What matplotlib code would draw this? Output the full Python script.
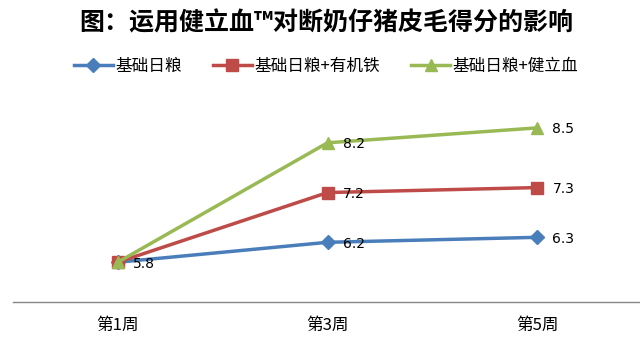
import matplotlib
matplotlib.use("Agg")
import matplotlib.pyplot as plt

plt.rcParams['font.family'] = ['Noto Sans CJK SC', 'DejaVu Sans']

categories = ["第1周", "第3周", "第5周"]
series_names = ["基础日粮", "基础日粮+有机铁", "基础日粮+健立血"]
base = [5.8, 6.2, 6.3]
iron = [5.8, 7.2, 7.3]
jianlixue = [5.8, 8.2, 8.5]
title = "图：运用健立血™对断奶仔猪皮毛得分的影响"

colors = ["#4A7EBB", "#BE4B48", "#98B954"]
markers = ["D", "s", "^"]
msizes = [7, 9, 9]

fig = plt.figure(figsize=(6.4, 3.44), dpi=100)
ax = fig.add_axes([13/640, 42/344, 629/640, 199/344])

x = list(range(len(categories)))
for vals, name, c, m, ms in zip([base, iron, jianlixue], series_names, colors, markers, msizes):
    ax.plot(x, vals, color=c, lw=2.5, marker=m, ms=ms, label=name, zorder=3)

for vals in [base, iron, jianlixue]:
    for i, v in enumerate(vals):
        if i == 0 and vals is not base:
            continue
        ax.annotate(f"{v:.1f}", (i, v), xytext=(11, -1), textcoords="offset points",
                    ha="left", va="center", fontsize=10, color="black", zorder=5,
                    family=['DejaVu Sans'])

ax.set_xlim(-0.5, 2.5)
ax.set_ylim(5, 9)
ax.set_xticks(x)
ax.set_xticklabels(categories, fontsize=12)
ax.tick_params(axis='x', length=0, pad=11)
ax.set_yticks([])
for s in ["top", "right", "left"]:
    ax.spines[s].set_visible(False)
ax.spines["bottom"].set_color("#868686")
ax.spines["bottom"].set_linewidth(1)

fig.text(0.5 + 6/640, 1 - 23/344, title, ha="center", va="center", fontsize=18, fontweight="bold")

leg = fig.legend(loc="center", bbox_to_anchor=(0.5 + 6/640, 1 - 66/344), ncol=3, frameon=False,
                 fontsize=12, handlelength=2.3, columnspacing=1.9, handletextpad=0.15)

fig.savefig("out.png", dpi=100)
